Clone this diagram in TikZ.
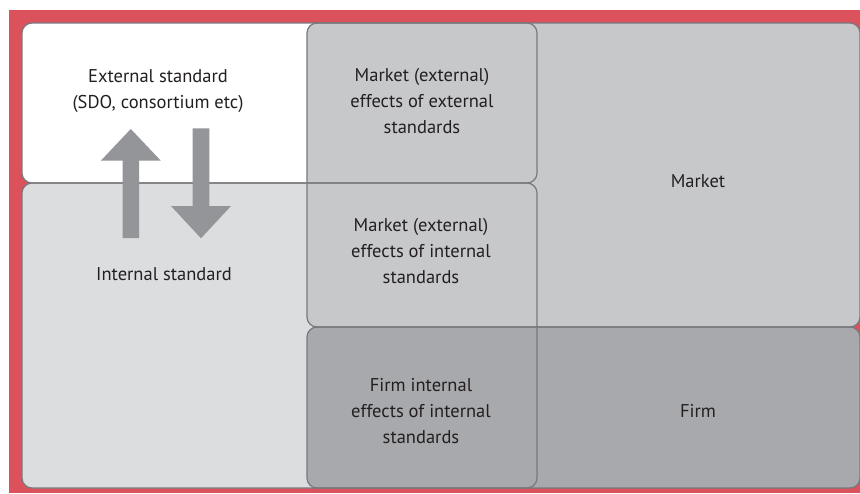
\documentclass[tikz,border=0pt]{standalone}
\usepackage{fontspec}
\setmainfont{PT Sans}
\definecolor{frame}{RGB}{220,82,92}
\definecolor{edgegrey}{RGB}{120,121,124}
\definecolor{internalfill}{RGB}{220,221,223}
\definecolor{marketfill}{RGB}{199,200,202}
\definecolor{firmfill}{RGB}{167,169,172}
\definecolor{arrowgrey}{RGB}{147,149,152}
\definecolor{ink}{RGB}{35,31,32}
\begin{document}
\begin{tikzpicture}[x=1pt,y=-1pt,
  panel/.style={rectangle, rounded corners=10pt, inner sep=0pt, outer sep=0pt},
  outline/.style={draw=edgegrey, line width=1.2pt, rounded corners=10pt},
  label/.style={align=center, text=ink, font=\fontsize{18.5}{26}\selectfont},
  bigarrow/.style={fill=arrowgrey}]
\useasboundingbox (0,0) rectangle (860,493);
% red backdrop
\fill[frame] (9,10) rectangle (860,493);

% panel fills, back to front
\node[panel, fill=white, minimum width=515pt, minimum height=160pt] (ext) at (279.5,103) {};
\node[panel, fill=internalfill, minimum width=515pt, minimum height=305pt] (int) at (279.5,335.5) {};
\node[panel, fill=marketfill, minimum width=553pt, minimum height=304pt] (market) at (583.5,175) {};
\node[panel, fill=firmfill, minimum width=553pt, minimum height=161pt] (firm) at (583.5,407.5) {};

% panel outlines on top of every fill
\draw[outline] (ext.north west) rectangle (ext.south east);
\draw[outline] (int.north west) rectangle (int.south east);
\draw[outline] (market.north west) rectangle (market.south east);
\draw[outline] (firm.north west) rectangle (firm.south east);

% up / down arrows between the two standards
\fill[bigarrow] (122.5,238) -- (122.5,160.7) -- (100.8,160.7) -- (130.8,129) -- (160.8,160.7) -- (139.1,160.7) -- (139.1,238) -- cycle;
\fill[bigarrow] (192.7,128.3) -- (192.7,206) -- (171,206) -- (201,238.3) -- (231,206) -- (209.3,206) -- (209.3,128.3) -- cycle;

% texts
\node[label] (extlbl) at (158,91) {External standard\\(SDO, consortium etc)};
\node[label] (intlbl) at (164,274) {Internal standard};
\node[label] (mee) at (422,101) {Market (external)\\effects of external\\standards};
\node[label] (mei) at (421,251) {Market (external)\\effects of internal\\standards};
\node[label] (fii) at (421,411) {Firm internal\\effects of internal\\standards};
\node[label] (mktlbl) at (698,181) {Market};
\node[label] (firmlbl) at (698,411) {Firm};
\end{tikzpicture}
\end{document}
